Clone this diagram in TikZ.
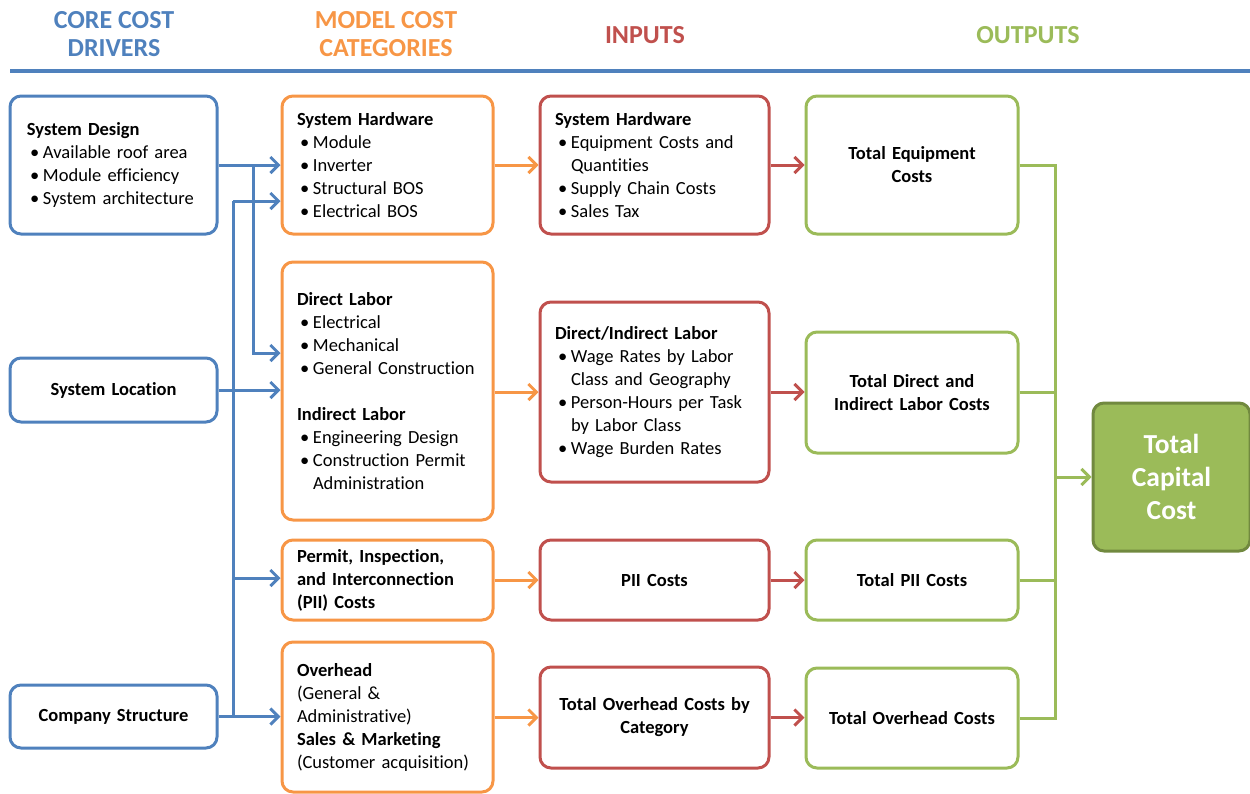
\documentclass[tikz,border=0pt]{standalone}
\usepackage{fontspec}
\setmainfont{Carlito}[Ligatures=NoCommon]
\usetikzlibrary{arrows.meta,calc}
\definecolor{cblue}{HTML}{4F81BD}
\definecolor{corange}{HTML}{F79646}
\definecolor{cred}{HTML}{C0504D}
\definecolor{cgreen}{HTML}{9BBB59}
\definecolor{cdgreen}{HTML}{71893F}
\newcommand{\hd}[1]{\mbox{\bfseries #1}}
\newcommand{\itm}[1]{\mbox{\hspace*{3pt}\makebox[13pt][l]{•}#1}}
\newcommand{\cnt}[1]{\mbox{\hspace*{16pt}#1}}
\newcommand{\plainln}[1]{\mbox{#1}}
\begin{document}
\begin{tikzpicture}[x=1pt,y=-1pt,
  box/.style={draw, line width=3pt, rounded corners=11pt, fill=white, inner ysep=0pt,
    font=\fontsize{18.5}{23}\selectfont},
  bluebox/.style={box, draw=cblue, minimum width=207pt},
  orangebox/.style={box, draw=corange, minimum width=211pt, text width=181pt, inner xsep=15pt, align=left},
  redbox/.style={box, draw=cred, minimum width=229pt},
  greenbox/.style={box, draw=cgreen, minimum width=212pt, text width=192pt, inner xsep=10pt, align=center, font=\fontsize{18.5}{23}\selectfont\bfseries},
  hdr/.style={font=\fontsize{26}{28.5}\selectfont\bfseries, align=center},
  conn/.style={line width=3pt, -{Straight Barb[length=8pt,width=16pt,line width=3pt]}},
  plain/.style={line width=3pt},
]
\useasboundingbox (0,0) rectangle (1250,793);

% headers
\node[hdr, text=cblue] (h1) at (114,34) {CORE COST\\DRIVERS};
\node[hdr, text=corange] (h2) at (386,34) {MODEL COST\\CATEGORIES};
\node[hdr, text=cred] (h3) at (645,35) {INPUTS};
\node[hdr, text=cgreen] (h4) at (1028,35) {OUTPUTS};
\coordinate (r1) at (10,71);
\coordinate (r2) at (1250,71);
\draw[cblue, line width=3.5pt] (r1) -- (r2);

% core cost drivers
\node[bluebox, minimum height=138pt, text width=173pt, inner xsep=17pt, align=left] (sd) at (113.5,165)
  {\hd{System Design}\\\itm{Available roof area}\\\itm{Module efficiency}\\\itm{System architecture}};
\node[bluebox, minimum height=64pt, text width=187pt, inner xsep=10pt, align=center, font=\fontsize{18.5}{23}\selectfont\bfseries] (sl) at (113.5,390) {System Location};
\node[bluebox, minimum height=63pt, text width=187pt, inner xsep=10pt, align=center, font=\fontsize{18.5}{23}\selectfont\bfseries] (cs) at (113.5,716.5) {Company Structure};

% model cost categories
\node[orangebox, minimum height=138pt] (oh) at (387.5,165)
  {\hd{System Hardware}\\\itm{Module}\\\itm{Inverter}\\\itm{Structural BOS}\\\itm{Electrical BOS}};
\node[orangebox, minimum height=258pt] (odl) at (387.5,391)
  {\hd{Direct Labor}\\\itm{Electrical}\\\itm{Mechanical}\\\itm{General Construction}\\[23pt]
   \hd{Indirect Labor}\\\itm{Engineering Design}\\\itm{Construction Permit}\\\cnt{Administration}};
\node[orangebox, minimum height=80pt] (op) at (387.5,580)
  {\hd{Permit, Inspection,}\\\hd{and Interconnection}\\\hd{(PII) Costs}};
\node[orangebox, minimum height=150pt] (oo) at (387.5,717)
  {\hd{Overhead}\\\plainln{(General \&}\\\plainln{Administrative)}\\\hd{Sales \& Marketing}\\\plainln{(Customer acquisition)}};

% inputs
\node[redbox, minimum height=138pt, text width=199pt, inner xsep=15pt, align=left] (rh) at (654.5,165)
  {\hd{System Hardware}\\\itm{Equipment Costs and}\\\cnt{Quantities}\\\itm{Supply Chain Costs}\\\itm{Sales Tax}};
\node[redbox, minimum height=180pt, text width=199pt, inner xsep=15pt, align=left] (rl) at (654.5,392)
  {\hd{Direct/Indirect Labor}\\\itm{Wage Rates by Labor}\\\cnt{Class and Geography}\\\itm{Person-Hours per Task}\\\cnt{by Labor Class}\\\itm{Wage Burden Rates}};
\node[redbox, minimum height=80pt, text width=209pt, inner xsep=10pt, align=center, font=\fontsize{18.5}{23}\selectfont\bfseries] (rp) at (654.5,580) {PII Costs};
\node[redbox, minimum height=101pt, text width=209pt, inner xsep=10pt, align=center, font=\fontsize{18.5}{23}\selectfont\bfseries] (ro) at (654.5,717.5) {Total Overhead Costs by\\Category};

% outputs
\node[greenbox, minimum height=138pt] (gh) at (912,165) {Total Equipment\\Costs};
\node[greenbox, minimum height=121pt] (gl) at (912,392.5) {Total Direct and\\Indirect Labor Costs};
\node[greenbox, minimum height=80pt] (gp) at (912,580) {Total PII Costs};
\node[greenbox, minimum height=100pt] (go) at (912,718) {Total Overhead Costs};
\node[draw=cdgreen, fill=cgreen, line width=3pt, rounded corners=11pt, minimum width=157pt, minimum height=148pt,
  text=white, align=center, font=\fontsize{27.5}{33}\selectfont\bfseries] (tc) at (1171.5,477) {Total\\Capital\\Cost};

% blue connectors
\coordinate (j1) at (253,165);
\coordinate (y353) at (0,353);
\coordinate (t1) at (233,201);
\coordinate (y578) at (0,578);
\draw[cblue, conn] (sd.east) -- (oh.west);
\draw[cblue, conn] (j1) |- (odl.west |- y353);
\draw[cblue, conn] (sl.east) -- (odl.west |- sl.east);
\draw[cblue, conn] (cs.east) -- (oo.west |- cs.east);
\draw[cblue, plain] (t1 |- cs.east) -- (t1);
\draw[cblue, conn] (t1) -- (oh.west |- t1);
\draw[cblue, conn] (t1 |- y578) -- (op.west |- y578);

% orange connectors
\draw[corange, conn] (oh.east) -- (rh.west);
\draw[corange, conn] (odl.east |- rl.west) -- (rl.west);
\draw[corange, conn] (op.east) -- (rp.west);
\draw[corange, conn] (oo.east |- ro.west) -- (ro.west);

% red connectors
\draw[cred, conn] (rh.east) -- (gh.west);
\draw[cred, conn] (rl.east) -- (gl.west |- rl.east);
\draw[cred, conn] (rp.east) -- (gp.west);
\draw[cred, conn] (ro.east) -- (go.west |- ro.east);

% green connectors
\coordinate (gt) at (1055,477);
\draw[cgreen, plain] (gh.east) -| (gt);
\draw[cgreen, plain] (gl.east) -- (gl.east -| gt);
\draw[cgreen, plain] (gp.east) -- (gp.east -| gt);
\draw[cgreen, plain] (go.east) -| (gt);
\draw[cgreen, conn] (gt) -- (tc.west);
\end{tikzpicture}
\end{document}
